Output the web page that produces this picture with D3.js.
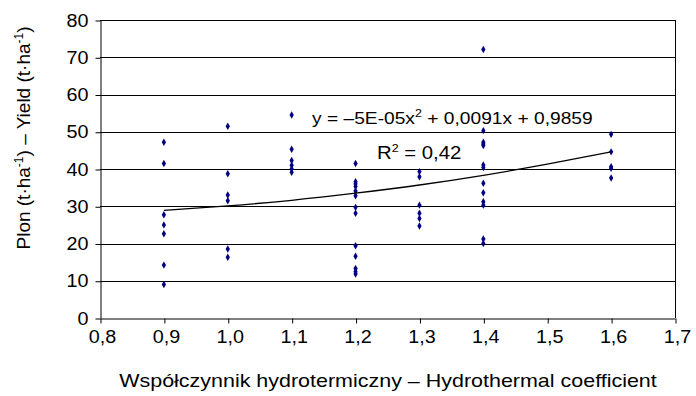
<!DOCTYPE html>
<html><head><meta charset="utf-8">
<script src="https://cdn.jsdelivr.net/npm/d3@7"></script>
<style>body{margin:0;background:#fff}svg{display:block}text{font-family:"Liberation Sans",Arial,sans-serif;fill:#000}</style>
</head><body>
<svg id="c" width="696" height="396"></svg>
<script>
const hcGroups = [0.9, 1.0, 1.1, 1.2, 1.3, 1.4, 1.6];
const yields09 = [47.2, 41.5, 27.7, 25.0, 22.6, 14.2, 9.0];
const yields10 = [51.5, 38.7, 33.0, 31.5, 18.5, 16.3];
const yields11 = [54.5, 45.3, 42.3, 41.0, 40.0, 39.1];
const yields12 = [41.5, 36.6, 36.0, 35.3, 34.1, 32.8, 29.7, 28.1, 19.4, 16.6, 13.3, 12.4, 11.8];
const yields13 = [39.3, 37.9, 30.3, 28.1, 26.7, 24.7];
const yields14 = [72.1, 50.3, 47.2, 46.7, 46.3, 41.1, 40.4, 36.2, 33.6, 31.2, 30.3, 21.2, 20.0];
const yields16 = [49.3, 44.6, 40.6, 40.2, 37.6];
const trendX = [0.9, 1.0, 1.1, 1.2, 1.3, 1.4, 1.5, 1.6];
const trendY = [28.9, 30.1, 31.6, 33.5, 35.7, 38.3, 41.3, 44.6];
const xTicks = [0.8, 0.9, 1.0, 1.1, 1.2, 1.3, 1.4, 1.5, 1.6, 1.7];
const yTicks = [0, 10, 20, 30, 40, 50, 60, 70, 80];
const equationText = "y = –5E-05x";
const equationRest = " + 0,0091x + 0,9859";
const r2Value = "0,42";

const groups = [yields09, yields10, yields11, yields12, yields13, yields14, yields16];
const points = [];
groups.forEach((g, i) => g.forEach(v => points.push({x: hcGroups[i], y: v})));

const SX = 1.13; // horizontal stretch of the reference's text
const svg = d3.select("#c");
const L = 100, R = 675, T = 20, B = 318;
const x = d3.scaleLinear().domain([0.8, 1.7]).range([L, R]);
const y = d3.scaleLinear().domain([0, 80]).range([B, T]);
const fmt = d => d.toFixed(1).replace(".", ",");

// gridlines
svg.append("g").selectAll("line").data(yTicks.filter(d => d > 0)).join("line")
  .attr("x1", L).attr("x2", R).attr("y1", d => Math.round(y(d)) + 0.5).attr("y2", d => Math.round(y(d)) + 0.5)
  .attr("stroke", "#000").attr("stroke-width", 1);
// right border
svg.append("line").attr("x1", R + 0.5).attr("x2", R + 0.5).attr("y1", T).attr("y2", B).attr("stroke", "#000");

// axes
const xAxis = svg.append("g").attr("transform", `translate(0,${Math.round(B) + 0.5})`)
  .call(d3.axisBottom(x).tickValues(xTicks).tickFormat(fmt).tickSize(5).tickSizeOuter(0));
const yAxis = svg.append("g").attr("transform", `translate(${L + 0.5},0)`)
  .call(d3.axisLeft(y).tickValues(yTicks).tickSize(5).tickSizeOuter(0));
[xAxis, yAxis].forEach(a => {
  a.select(".domain").attr("stroke", "#000");
  a.selectAll(".tick line").attr("stroke", "#000");
  a.selectAll("text").style("font-size", "17.5px").attr("fill", "#000");
});
xAxis.selectAll(".tick text").attr("y", 0).attr("dy", 0).attr("transform", `translate(2,24) scale(${SX},1)`);
yAxis.selectAll(".tick text").attr("x", 0).attr("dy", "0.35em").attr("transform", `translate(-12,0) scale(${SX},1)`);
xAxis.selectAll(".tick line").attr("transform", "translate(0.5,0)");
yAxis.selectAll(".tick line").attr("transform", "translate(0,0.5)");

// points
svg.append("g").selectAll("path").data(points).join("path")
  .attr("transform", d => `translate(${x(d.x)},${y(d.y)})`)
  .attr("d", d3.symbol(d3.symbolDiamond, 16))
  .attr("fill", "#000080");

// trendline
svg.append("path").datum(trendX.map((v, i) => [v, trendY[i]]))
  .attr("d", d3.line().x(d => x(d[0])).y(d => y(d[1])).curve(d3.curveMonotoneX))
  .attr("fill", "none").attr("stroke", "#000").attr("stroke-width", 1.3);

// equation
const eq = svg.append("text").attr("transform", `translate(312,124) scale(${SX},1)`).style("font-size", "17px");
eq.append("tspan").text(equationText);
eq.append("tspan").text("2").attr("dy", -7).style("font-size", "11px");
eq.append("tspan").text(equationRest).attr("dy", 7);
const r2 = svg.append("text").attr("transform", `translate(377,159) scale(${SX},1)`).style("font-size", "18px");
r2.append("tspan").text("R");
r2.append("tspan").text("2").attr("dy", -7).style("font-size", "11px");
r2.append("tspan").text(" = " + r2Value).attr("dy", 7);

// axis titles
svg.append("text").attr("transform", `translate(388,387) scale(${SX},1)`).attr("text-anchor", "middle")
  .style("font-size", "19px").text("Współczynnik hydrotermiczny – Hydrothermal coefficient");
const yt = svg.append("text").attr("transform", "translate(30,138) rotate(-90)")
  .attr("text-anchor", "middle").style("font-size", "19px");
yt.append("tspan").text("Plon (t·ha");
yt.append("tspan").text("-1").attr("dy", -7).style("font-size", "12px");
yt.append("tspan").text(") – Yield (t·ha").attr("dy", 7);
yt.append("tspan").text("-1").attr("dy", -7).style("font-size", "12px");
yt.append("tspan").text(")").attr("dy", 7);
</script>
</body></html>
